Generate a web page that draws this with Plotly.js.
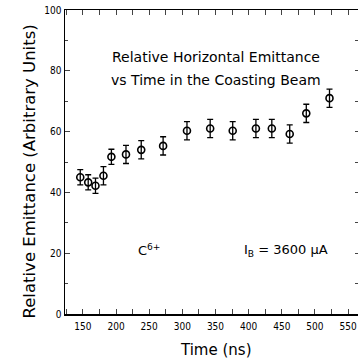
<!DOCTYPE html>
<html>
<head>
<meta charset="utf-8">
<script src="https://cdn.plot.ly/plotly-3.0.1.min.js"></script>
<style>html,body{margin:0;padding:0;background:#fff;}#chart{width:359px;height:360px;}</style>
</head>
<body>
<div id="chart"></div>
<script>
const timeNs = [146, 158, 169, 181, 193, 215, 238, 271, 307, 342, 376, 411, 435, 462, 487, 522];
const emittance = [45.0, 43.3, 42.2, 45.5, 51.7, 52.5, 54.0, 55.3, 60.3, 61.0, 60.3, 61.0, 61.0, 59.2, 66.0, 71.0];
const errorBar = [2.5, 2.5, 2.5, 3, 2.5, 3, 3, 3, 3, 3, 3, 3, 3, 3, 3, 3];
const yTickVals = [0, 20, 40, 60, 80, 100];
const xTickVals = [150, 200, 250, 300, 350, 400, 450, 500, 550];

const font = "DejaVu Sans Condensed, DejaVu Sans, sans-serif";
const wide = "DejaVu Sans, sans-serif";
const W = 359, H = 360, ML = 65, MR = 1, MT = 10, MB = 46;
const pw = W - ML - MR, ph = H - MT - MB;
const px = v => (v - ML) / pw;          // page x pixel -> paper
const py = v => 1 - (v - MT) / ph;      // page y pixel -> paper

const trace = {
  x: timeNs, y: emittance, type: 'scatter', mode: 'markers',
  marker: {symbol: 'circle-open', size: 7, color: '#000', line: {width: 1.6, color: '#000'}},
  error_y: {type: 'data', array: errorBar, visible: true, color: '#000', thickness: 1.3, width: 3},
  showlegend: false
};
const ghost = {x: [timeNs[0]], y: [emittance[0]], yaxis: 'y2', mode: 'markers', marker: {opacity: 0}, showlegend: false, hoverinfo: 'skip'};

const layout = {
  width: W, height: H,
  margin: {l: ML, r: MR, t: MT, b: MB},
  paper_bgcolor: '#fff', plot_bgcolor: '#fff',
  font: {family: font, color: '#000'},
  xaxis: {
    range: [123, 565], tickvals: xTickVals, ticks: 'inside', ticklen: 5, tickwidth: 1,
    minor: {dtick: 25, tick0: 125, ticks: 'inside', ticklen: 3},
    showline: true, linewidth: 1.5, linecolor: '#000', mirror: 'allticks',
    showgrid: false, zeroline: false,
    tickfont: {size: 10, family: font},
    ticklabelstandoff: 2
  },
  yaxis: {
    range: [0, 100], tickvals: yTickVals, ticks: 'inside', ticklen: 5, tickwidth: 1,
    minor: {dtick: 10, ticks: 'inside', ticklen: 3},
    showline: true, linewidth: 1.5, linecolor: '#000',
    showgrid: false, zeroline: false,
    tickfont: {size: 10, family: font}
  },
  yaxis2: {
    overlaying: 'y', side: 'right', range: [0, 100], dtick: 10, ticks: 'inside', ticklen: 3,
    showticklabels: false, showline: false, showgrid: false, zeroline: false
  },
  annotations: [
    {text: 'Relative Horizontal Emittance', x: px(216), y: py(47), xref: 'paper', yref: 'paper', showarrow: false, font: {size: 14, family: wide}},
    {text: 'vs Time in the Coasting Beam', x: px(216), y: py(70), xref: 'paper', yref: 'paper', showarrow: false, font: {size: 14, family: wide}},
    {text: 'C<sup>6+</sup>', x: 250, y: 21, xref: 'x', yref: 'y', showarrow: false, font: {size: 13, family: wide}},
    {text: 'I<sub>B</sub> = 3600 μA', x: 456, y: 21, xref: 'x', yref: 'y', showarrow: false, font: {size: 13, family: wide}},
    {text: 'Relative Emittance (Arbitrary Units)', textangle: -90, x: px(17), y: py(172), xref: 'paper', yref: 'paper', showarrow: false, font: {size: 16.5, family: wide}},
    {text: 'Time (ns)', x: px(216), y: py(360), yanchor: 'bottom', borderpad: 0, xref: 'paper', yref: 'paper', showarrow: false, font: {size: 15, family: wide}}
  ]
};

Plotly.newPlot('chart', [trace, ghost], layout, {staticPlot: true, displayModeBar: false});
</script>
</body>
</html>
